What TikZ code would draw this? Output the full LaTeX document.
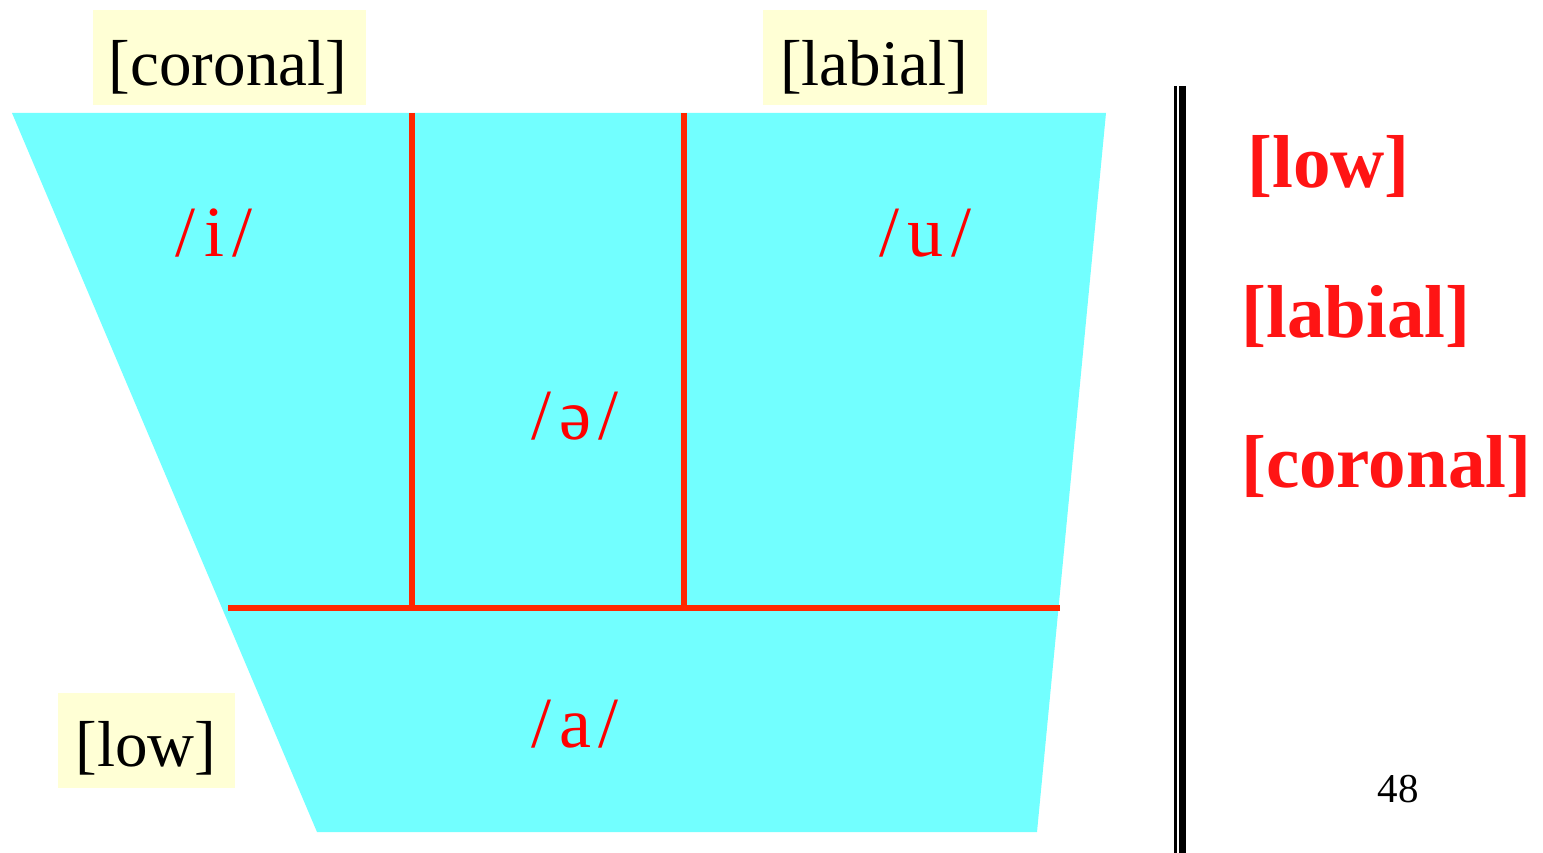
\documentclass[tikz,border=0pt]{standalone}
\usepackage{fontspec}
\setmainfont{Liberation Serif}

\definecolor{vowelcyan}{RGB}{114,255,255}
\definecolor{tagyellow}{RGB}{255,255,213}
\definecolor{linered}{RGB}{255,40,0}
\definecolor{featred}{RGB}{255,20,20}

\newcommand{\phon}[1]{/\kern8pt#1\kern8pt/}

\begin{document}
\begin{tikzpicture}[
x=1pt, y=-1pt,
tagbox/.style={fill=tagyellow, inner sep=0pt},
tag/.style={anchor=base, inner sep=0pt, font=\fontsize{65}{78}\selectfont},
vowel/.style={anchor=base, inner sep=0pt, text=red, font=\fontsize{72}{86}\selectfont},
feature/.style={anchor=base west, inner sep=0pt, text=featred, font=\fontsize{75}{90}\selectfont\bfseries},
divider/.style={draw=linered, line width=5.5pt}
]

\useasboundingbox (0,0) rectangle (1543,853);

% vowel space
\fill[vowelcyan] (12,113) -- (1106,113) -- (1037,832) -- (317,832) -- cycle;

% dividers
\coordinate (hl) at (228,608);
\coordinate (hr) at (1060,608);
\coordinate (v1t) at (412,113);
\coordinate (v1b) at (412,608);
\coordinate (v2t) at (684,113);
\coordinate (v2b) at (684,608);
\draw[divider] (hl) -- (hr);
\draw[divider] (v1t) -- (v1b);
\draw[divider] (v2t) -- (v2b);

% vowels
\node[vowel] (i) at (214,257) {\phon{i}};
\node[vowel] (u) at (925,257) {\phon{u}};
\node[vowel] (schwa) at (575,439) {\phon{ə}};
\node[vowel] (a) at (575,747) {\phon{a}};

% place tags
\node[tagbox, minimum width=273pt, minimum height=95pt] (corbox) at (229.5,57.5) {};
\node[tag] (cor) at (228,86) {[coronal]};
\node[tagbox, minimum width=224pt, minimum height=95pt] (labbox) at (875,57.5) {};
\node[tag] (lab) at (874,86) {[labial]};
\node[tagbox, minimum width=177pt, minimum height=95pt] (lowbox) at (146.5,740.5) {};
\node[tag] (low) at (146,766) {[low]};

% double bar
\draw[line width=3pt] (1175.5,86) -- (1175.5,853);
\draw[line width=7pt] (1182.5,86) -- (1182.5,853);

% features
\node[feature] (flow) at (1247,188) {[low]};
\node[feature] (flab) at (1241,337) {[labial]};
\node[feature] (fcor) at (1241,487) {[coronal]};

\node[anchor=base, inner sep=0pt, font=\fontsize{41}{49}\selectfont] (page) at (1398,802) {48};

\end{tikzpicture}
\end{document}
